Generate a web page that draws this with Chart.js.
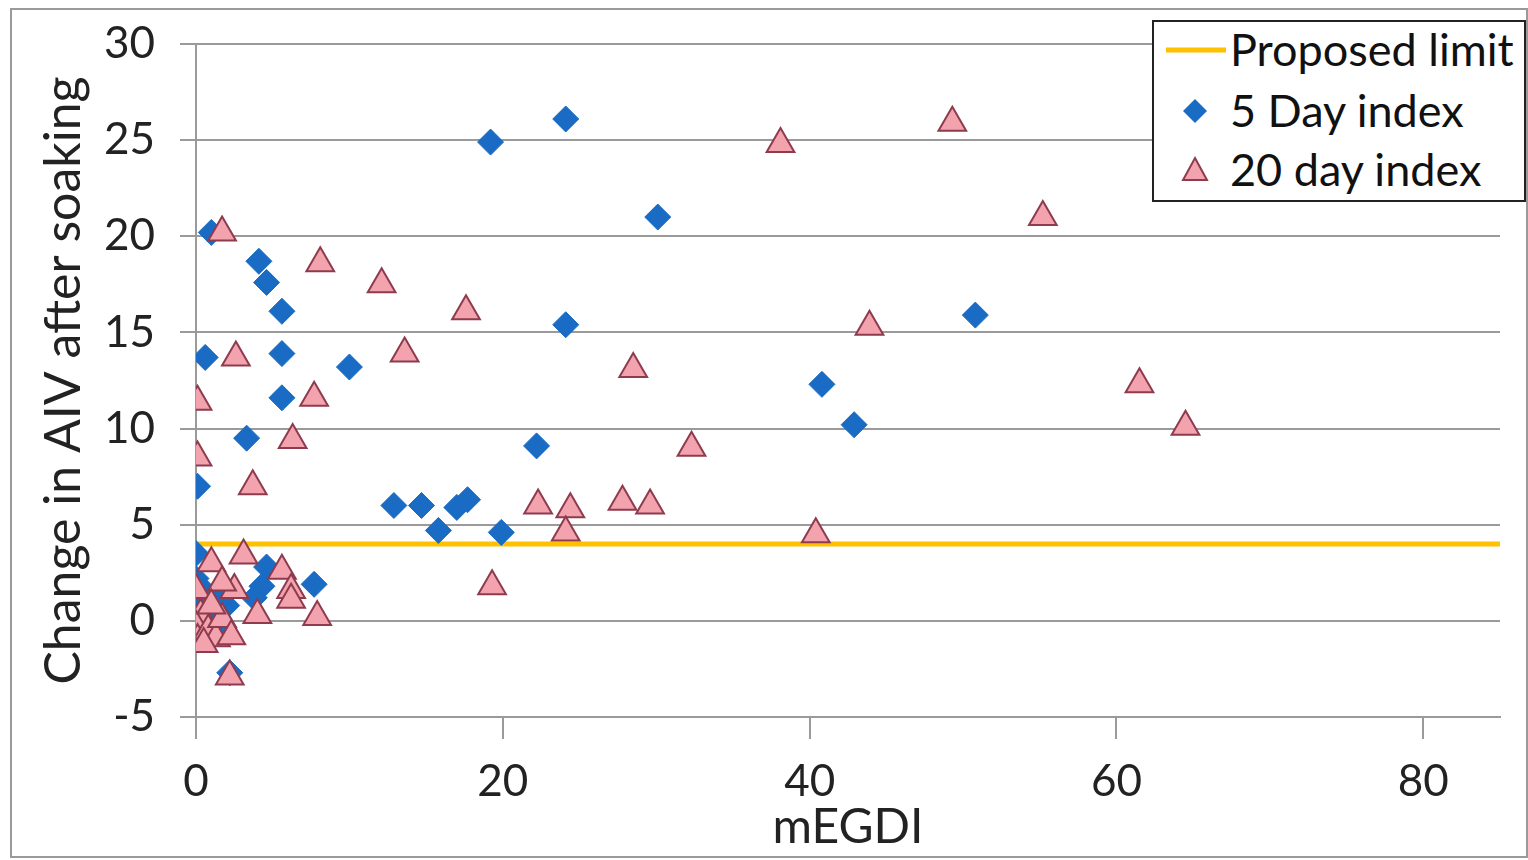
<!DOCTYPE html>
<html>
<head>
<meta charset="utf-8">
<script src="https://cdn.jsdelivr.net/npm/chart.js@4"></script>
<style>
  html, body { margin: 0; padding: 0; background: #fff; }
  #wrap { position: relative; width: 1528px; height: 860px; }
  #frame { position: absolute; left: 10px; top: 8px; width: 1514px; height: 846px; border: 2px solid #9a9a9a; pointer-events: none; }
  #legend { position: absolute; left: 1152px; top: 20px; width: 374px; height: 182px; border: 2px solid #222; background: #fff;
            font-family: Lato, sans-serif; font-size: 45px; color: #111; box-sizing: border-box; }
  .row { position: absolute; left: 0; height: 56px; }
  .row span { position: absolute; left: 76px; white-space: nowrap; }
  .row svg { position: absolute; left: 10px; }
</style>
</head>
<body>
<div id="wrap">
  <canvas id="myChart" width="1528" height="860"></canvas>
  <div id="frame"></div>
  <div id="legend">
    <div class="row" style="top:0px"><svg width="64" height="10" style="top:23px"><line x1="2" y1="5" x2="62" y2="5" stroke="#FFC000" stroke-width="5"/></svg><span style="top:0px">Proposed limit</span></div>
    <div class="row" style="top:61px"><svg width="64" height="30" style="top:13px"><polygon points="31,3 43,15 31,27 19,15" fill="#1a6bc4"/></svg><span style="top:0px">5 Day index</span></div>
    <div class="row" style="top:120px"><svg width="64" height="30" style="top:12px"><polygon points="31,4 43,26 19,26" fill="#f2a3ad" stroke="#8e3b4e" stroke-width="2"/></svg><span style="top:0px">20 day index</span></div>
  </div>
</div>
<script>
// mEGDI (x) vs change in AIV after soaking (y)
const day5X = [1.0, 0.6, 4.1, 4.6, 5.6, 5.6, 5.6, 3.3, 0.1, 10.0, 19.2, 24.1, 30.1, 24.1, 22.2, 12.9, 14.7, 15.8, 17.0, 17.7, 19.9, 50.8, 40.8, 42.9, 7.7,
               0.0, 0.0, 0.3, 0.5, 0.0, 0.2, 0.8, 1.2, 1.5, 2.0, 4.3, 3.8, 4.6, 2.2, 0.5, 1.8];
const day5Y = [20.2, 13.7, 18.7, 17.6, 16.1, 13.9, 11.6, 9.5, 7.0, 13.2, 24.9, 26.1, 21.0, 15.4, 9.1, 6.0, 6.0, 4.7, 5.9, 6.3, 4.6, 15.9, 12.3, 10.2, 1.9,
               3.5, 2.2, 1.0, 0.5, 0.0, -0.5, -0.8, 0.2, -0.3, 0.8, 1.8, 1.2, 2.8, -2.7, 1.6, 1.3];

const day20X = [1.7, 8.1, 12.1, 17.6, 13.6, 2.6, 0.1, 7.7, 6.3, 0.1, 3.7, 38.1, 49.3, 55.2, 43.9, 28.5, 61.5, 64.5, 32.3, 22.3, 24.4, 27.8, 29.6, 24.1, 40.4,
                19.3, 3.1, 7.9, 2.2, 1.0, 5.6, 6.2, 6.2, 4.0, 2.5, 1.7, 0.0, 0.3, 0.0, 0.1, 0.8, 1.3, 1.7, 2.3, 1.0, 0.5];
const day20Y = [20.2, 18.6, 17.5, 16.1, 13.9, 13.7, 11.4, 11.6, 9.4, 8.5, 7.0, 24.8, 25.9, 21.0, 15.3, 13.1, 12.3, 10.1, 9.0, 6.0, 5.8, 6.2, 6.0, 4.6, 4.5,
                1.8, 3.4, 0.2, -2.9, 3.0, 2.6, 1.6, 1.1, 0.3, 1.6, 2.0, 1.6, 0.3, -0.3, -1.0, -0.5, -0.9, 0.1, -0.8, 0.8, -1.2];

const proposedLimit = 4;
const xRange = [0, 85];
const yRange = [-5, 30];
const xTickStep = 20;

const toPoints = (xs, ys) => xs.map((x, i) => ({ x: x, y: ys[i] }));
const gridGray = '#9a9a9a';

const ctx = document.getElementById('myChart');

new Chart(ctx, {
    type: 'scatter',
    data: {
        datasets: [{
            type: 'line',
            label: 'Proposed limit',
            data: xRange.map(x => ({ x: x, y: proposedLimit })),
            borderColor: '#FFC000',
            borderWidth: 5,
            pointRadius: 0,
            order: 3
        }, {
            label: '5 Day index',
            data: toPoints(day5X, day5Y),
            pointStyle: 'rectRot',
            pointRadius: 13,
            backgroundColor: '#1a6bc4',
            borderColor: '#1a6bc4',
            borderWidth: 1,
            order: 2
        }, {
            label: '20 day index',
            data: toPoints(day20X, day20Y),
            pointStyle: 'triangle',
            pointRadius: 16,
            backgroundColor: '#f2a3ad',
            borderColor: '#8e3b4e',
            borderWidth: 2,
            order: 1
        }]
    },
    options: {
        responsive: false,
        animation: false,
        layout: { padding: { top: 44, right: 28, left: 0, bottom: 0 } },
        plugins: {
            legend: { display: false },
            tooltip: { enabled: false }
        },
        scales: {
            x: {
                type: 'linear',
                min: xRange[0],
                max: xRange[1],
                afterBuildTicks: function (scale) {
                    scale.ticks = scale.ticks.filter(t => t.value % xTickStep === 0);
                },
                ticks: {
                    stepSize: xTickStep,
                    padding: 16,
                    color: '#222',
                    font: { family: 'Lato', size: 44 }
                },
                grid: { drawOnChartArea: false, tickLength: 22, color: gridGray, lineWidth: 2 },
                border: { color: gridGray, width: 2 },
                title: {
                    display: true,
                    text: 'mEGDI',
                    color: '#222',
                    font: { family: 'Lato', size: 48 },
                    padding: { top: 0, bottom: 4 }
                },
                afterFit: function (scale) {
                    scale.height = 143;
                    scale.paddingLeft = 0;
                    scale.paddingRight = 0;
                }
            },
            y: {
                min: yRange[0],
                max: yRange[1],
                ticks: {
                    stepSize: 5,
                    padding: 25,
                    color: '#222',
                    font: { family: 'Lato', size: 44 }
                },
                grid: { tickLength: 16, color: gridGray, lineWidth: 2 },
                border: { color: gridGray, width: 2 },
                title: {
                    display: true,
                    text: 'Change in AIV after soaking',
                    color: '#222',
                    font: { family: 'Lato', size: 50 },
                    padding: { top: 34, bottom: 0 }
                },
                afterFit: function (scale) {
                    scale.width = 196;
                    scale.paddingTop = 0;
                    scale.paddingBottom = 0;
                }
            }
        }
    }
});
</script>
</body>
</html>
